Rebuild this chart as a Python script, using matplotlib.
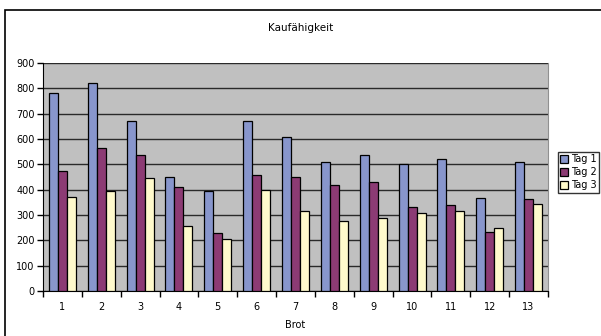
import numpy as np
import matplotlib.pyplot as plt
from matplotlib.patches import Rectangle

# Kaufaehigkeit pro Brot, drei Tage
brot = list(range(1, 14))
tag1 = [780, 821, 671, 449, 393, 672, 607, 511, 537, 503, 521, 367, 511]
tag2 = [474, 566, 538, 412, 230, 457, 451, 418, 430, 333, 339, 233, 362]
tag3 = [371, 395, 447, 255, 204, 400, 317, 275, 288, 309, 316, 249, 345]
serien = ['Tag 1', 'Tag 2', 'Tag 3']
farben = ['#8896CC', '#8C3B74', '#FFFACC']

plt.rcParams['font.family'] = ['DejaVu Sans']

W, H = 601, 336
fig = plt.figure(figsize=(W / 100, H / 100), dpi=100)
fig.patch.set_facecolor('white')

# outer chart frame (runs off the right/bottom edge)
fig.add_artist(Rectangle((5 / W, -0.1), 1.2, 1 - 10 / H + 0.1,
                         transform=fig.transFigure, fill=False,
                         edgecolor='black', lw=1.2))

ax = fig.add_axes([43 / W, 1 - 291 / H, (548 - 43) / W, (291 - 63) / H])
ax.set_facecolor('#C0C0C0')

x = np.arange(len(brot))
bw = 0.232
for k, (werte, name, c) in enumerate(zip([tag1, tag2, tag3], serien, farben)):
    ax.bar(x + (k - 1) * bw, werte, bw, color=c, edgecolor='black',
           linewidth=0.9, label=name, zorder=3)

ax.set_xlim(-0.5, len(brot) - 0.5)
ax.set_ylim(0, 900)
ax.set_yticks(range(0, 901, 100))
ax.yaxis.grid(True, color='#2a2a2a', lw=1.0, zorder=0)
ax.set_axisbelow(True)

ax.set_xticks(x)
ax.set_xticklabels([str(b) for b in brot])
ax.set_xticks(np.arange(-0.5, len(brot), 1), minor=True)
ax.tick_params(axis='x', which='major', length=0, pad=8, labelsize=7)
ax.tick_params(axis='x', which='minor', length=4, width=1, direction='out')
ax.tick_params(axis='y', length=4, width=1, direction='out', pad=2, labelsize=7)

ax.spines['top'].set_visible(False)
ax.spines['right'].set_color('#909090')
ax.spines['left'].set_color('black')
ax.spines['bottom'].set_color('black')

ax.set_xlabel('Brot', fontsize=7, labelpad=6)
fig.text(0.5, 1 - 28 / H, 'Kaufähigkeit', ha='center', va='center', fontsize=7.5)

leg = fig.legend(loc='upper left', bbox_to_anchor=(558 / W, 1 - 152 / H),
                 fontsize=7, frameon=True, fancybox=False, handlelength=0.8,
                 handleheight=0.8, handletextpad=0.3, borderpad=0.25,
                 labelspacing=0.3, borderaxespad=0)
leg.get_frame().set_edgecolor('black')
leg.get_frame().set_linewidth(1.0)

fig.savefig('out.png', dpi=100)
